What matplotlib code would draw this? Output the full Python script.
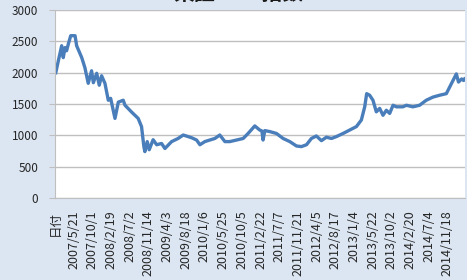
import matplotlib
matplotlib.use('Agg')
import matplotlib.pyplot as plt

plt.rcParams['font.family'] = ['Noto Sans CJK JP', 'DejaVu Sans']

# 東証REIT指数 (行番号, 指数値) - 画像から読み取り
row_idx = [4, 17, 34, 42, 51, 59, 68, 80, 102, 110, 136, 152, 169, 186, 195, 212,
           225, 237, 254, 271, 283, 305, 322, 347, 356, 390, 423, 440, 452, 457,
           469, 479, 499, 517, 542, 559, 593, 626, 652, 677, 696, 720, 737, 762,
           787, 813, 838, 864, 889, 923, 957, 982, 1016, 1041, 1052, 1058, 1067,
           1092, 1126, 1160, 1194, 1228, 1253, 1279, 1304, 1329, 1355, 1380, 1406,
           1431, 1465, 1499, 1533, 1558, 1575, 1585, 1600, 1617, 1634, 1651, 1668,
           1685, 1702, 1719, 1736, 1769, 1787, 1820, 1854, 1888, 1922, 1956, 1990,
           2007, 2024, 2041, 2052, 2068, 2078, 2083]
index_val = [2000, 2190, 2430, 2240, 2400, 2350, 2460, 2590, 2590, 2430, 2240, 2080,
             1830, 2030, 1840, 1990, 1800, 1950, 1830, 1560, 1590, 1270, 1530, 1560,
             1480, 1370, 1270, 1140, 820, 740, 900, 770, 930, 850, 870, 790, 900, 950,
             1005, 980, 960, 925, 850, 900, 925, 950, 1005, 900, 900, 925, 950, 1030,
             1150, 1085, 1070, 925, 1075, 1060, 1030, 950, 900, 830, 820, 850, 950,
             990, 915, 970, 950, 980, 1030, 1085, 1140, 1245, 1455, 1665, 1640, 1560,
             1375, 1430, 1320, 1400, 1350, 1480, 1455, 1455, 1480, 1455, 1480, 1560,
             1610, 1640, 1665, 1770, 1875, 1980, 1850, 1900, 1875, 1900]

# 目盛ラベル (95行ごと)
tick_labels = ['日付', '2007/5/21', '2007/10/1', '2008/2/19', '2008/7/2', '2008/11/14',
               '2009/4/3', '2009/8/18', '2010/1/6', '2010/5/25', '2010/10/5',
               '2011/2/22', '2011/7/7', '2011/11/21', '2012/4/5', '2012/8/17',
               '2013/1/4', '2013/5/22', '2013/10/2', '2014/2/20', '2014/7/4',
               '2014/11/18']
tick_step = 95

bg = '#dce6f2'
fig = plt.figure(figsize=(4.67, 2.80), dpi=100, facecolor=bg)
ax = fig.add_axes([55 / 467, 1 - 198 / 280, 410 / 467, 188 / 280])

ax.plot(row_idx, index_val, color='#4a7ebb', linewidth=2.4, solid_joinstyle='round')

ax.set_xlim(0, 2085)
ax.set_ylim(0, 3000)
ax.set_yticks(range(0, 3001, 500))
ax.set_xticks([i * tick_step for i in range(len(tick_labels))])
ax.set_xticklabels(tick_labels, rotation=90, fontsize=9, color='#262626')
ax.tick_params(axis='y', labelsize=8.5, labelcolor='#262626', length=4, color='#bfbfbf', pad=8)
ax.tick_params(axis='x', length=0, pad=9)

ax.grid(True, axis='y', color='#bfbfbf', linewidth=1)
ax.set_axisbelow(True)
for side in ['top', 'right']:
    ax.spines[side].set_visible(False)
ax.spines['left'].set_color('#bfbfbf')
ax.spines['bottom'].set_color('#bfbfbf')

# タイトル (上端で切れている)
fig.text(0.51, 1 - 0.5 / 280, '東証REIT指数', ha='center', va='baseline',
         fontsize=15, fontweight='bold', color='#1a1a1a')

fig.savefig('out.png', dpi=100, facecolor=bg)
